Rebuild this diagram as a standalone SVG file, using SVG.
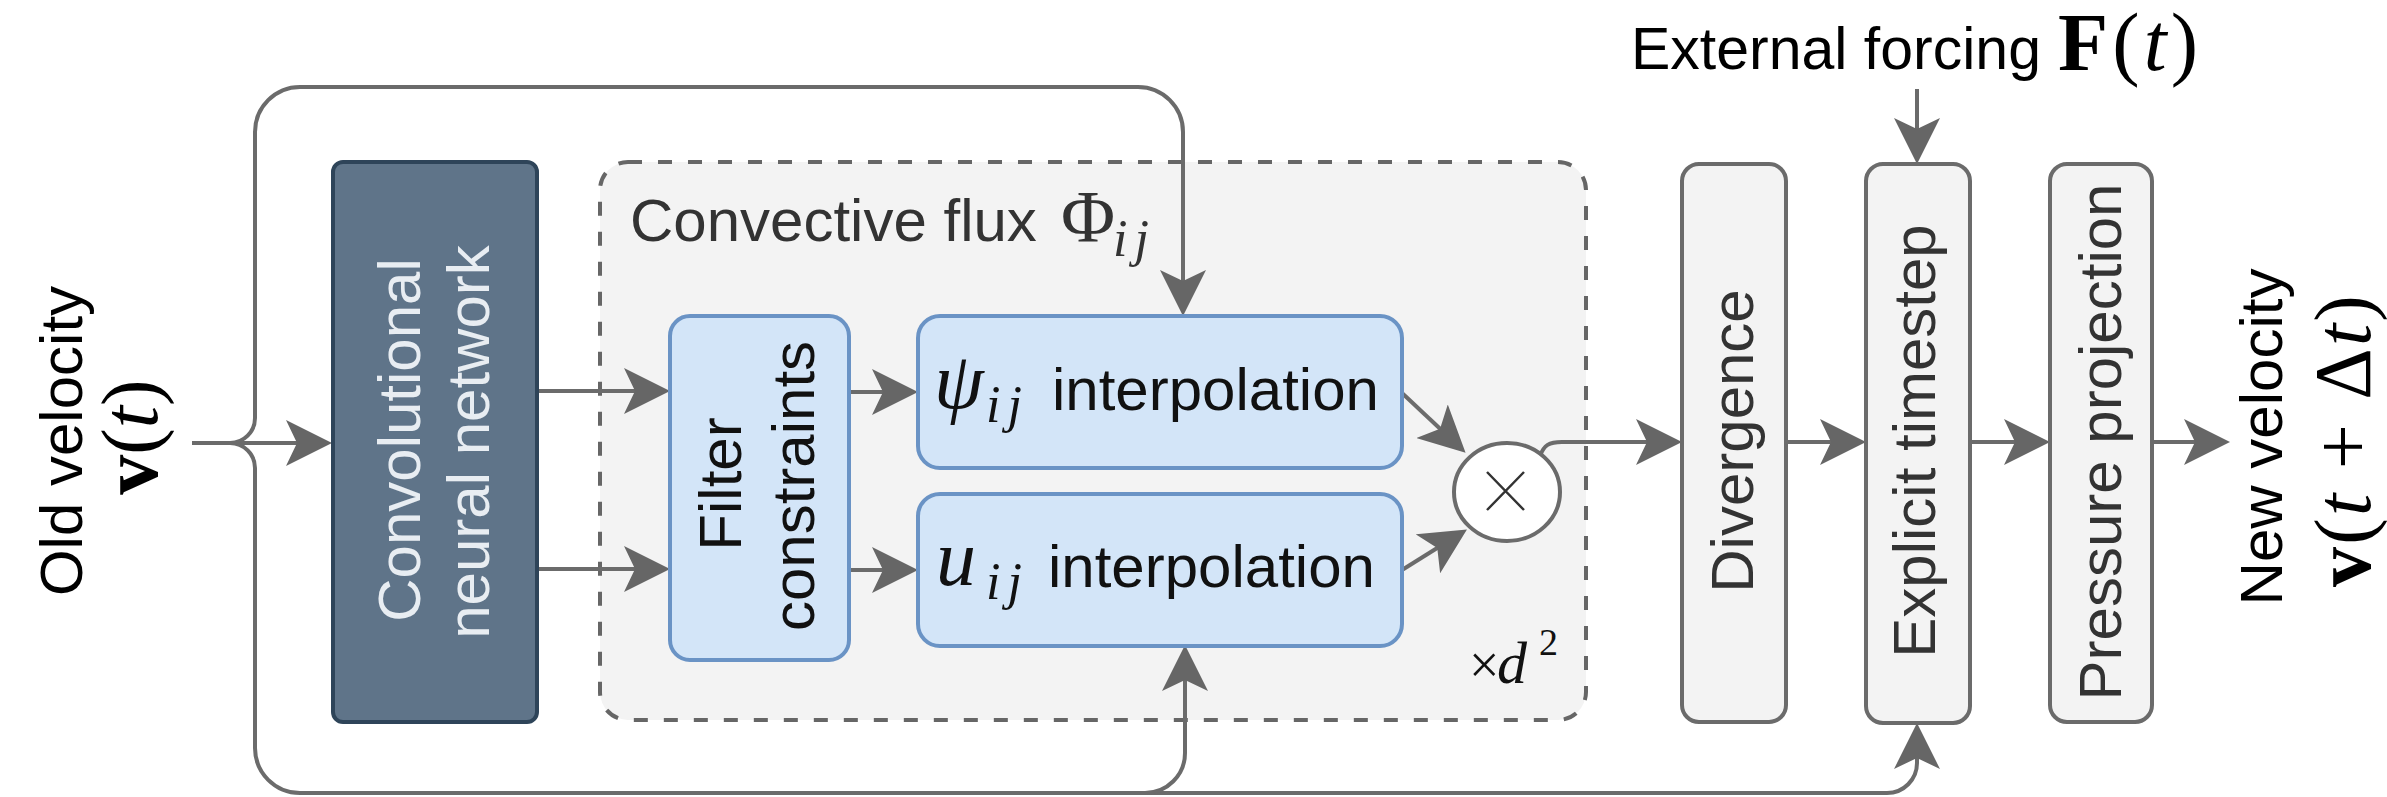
<svg xmlns="http://www.w3.org/2000/svg" width="2387" height="797" viewBox="0 0 2387 797">
<style>
.sans{font-family:"Liberation Sans",Arial,sans-serif;font-size:60px}
.serif{font-family:"Liberation Serif","Times New Roman",serif}
.it{font-style:italic}
.bd{font-weight:bold}
.conn{fill:none;stroke:#6b6b6b;stroke-width:4}
.gray{fill:#f3f3f3;stroke:#6b6b6b;stroke-width:4}
.blue{fill:#d3e5f8;stroke:#6a93c5;stroke-width:4}
.dark{fill:#5f7489;stroke:#2e4459;stroke-width:4}
</style>
<defs>
<marker id="ah" viewBox="0 0 46 46" refX="26" refY="23" markerWidth="46" markerHeight="46" markerUnits="userSpaceOnUse" orient="auto">
<path d="M0,0 L46,23 L0,46 L11,23 z" fill="#666"/>
</marker>
</defs>
<rect width="2387" height="797" fill="#fff"/>

<g id="convective-flux">
<rect x="600" y="162" width="986" height="558" rx="28" fill="#f3f3f3" stroke="#666" stroke-width="4" stroke-dasharray="14 16"/>
<text class="sans" x="630" y="241" fill="#333">Convective flux</text>
<text class="serif" x="1061" y="242" font-size="74" fill="#333">Φ</text>
<text class="serif it" x="1113" y="256" font-size="52" textLength="36" lengthAdjust="spacing" fill="#333">ij</text>
<text class="serif" x="1469" y="683" font-size="54" fill="#111">×</text>
<text class="serif it" x="1497" y="683" font-size="60" fill="#111">d</text>
<text class="serif" x="1539" y="655" font-size="38" fill="#111">2</text>
</g>

<g id="connectors">
<path class="conn" d="M192,443 H230"/>
<path class="conn" d="M230,443 A25,25 0 0 0 255,418 V132 A45,45 0 0 1 300,87 H1138 A45,45 0 0 1 1183,132 V296" marker-end="url(#ah)"/>
<path class="conn" d="M230,443 A25,25 0 0 1 255,468 V748 A45,45 0 0 0 300,793 H1887 A30,30 0 0 0 1917,763 V743" marker-end="url(#ah)"/>
<path class="conn" d="M1145,793 A40,40 0 0 0 1185,753 V665" marker-end="url(#ah)"/>
<path class="conn" d="M230,443 H312" marker-end="url(#ah)"/>
<path class="conn" d="M537,391 H650" marker-end="url(#ah)"/>
<path class="conn" d="M537,569 H650" marker-end="url(#ah)"/>
<path class="conn" d="M849,392 H898" marker-end="url(#ah)"/>
<path class="conn" d="M849,570 H898" marker-end="url(#ah)"/>
<path class="conn" d="M1402,393 L1451,439" marker-end="url(#ah)"/>
<path class="conn" d="M1402,570 L1450,540" marker-end="url(#ah)"/>
<path class="conn" d="M1540,456 C1544,445 1549,442 1562,442 H1662" marker-end="url(#ah)"/>
<path class="conn" d="M1786,442 H1846" marker-end="url(#ah)"/>
<path class="conn" d="M1970,442 H2030" marker-end="url(#ah)"/>
<path class="conn" d="M2152,442 H2210" marker-end="url(#ah)"/>
<path class="conn" d="M1917,89 V144" marker-end="url(#ah)"/>
</g>

<g id="old-velocity">
<text class="sans" transform="translate(82,441) rotate(-90)" text-anchor="middle" fill="#000">Old velocity</text>
<text class="serif" transform="translate(157,437) rotate(-90)" text-anchor="middle" font-size="80" fill="#000"><tspan class="bd">v</tspan>(<tspan class="it">t</tspan>)</text>
</g>

<g id="cnn">
<rect class="dark" x="333" y="162" width="204" height="560" rx="10"/>
<text class="sans" transform="translate(420,440) rotate(-90)" text-anchor="middle" fill="#e8edf2">Convolutional</text>
<text class="sans" transform="translate(489,442) rotate(-90)" text-anchor="middle" fill="#e8edf2">neural network</text>
</g>

<g id="filter">
<rect class="blue" x="670" y="316" width="179" height="344" rx="20"/>
<text class="sans" transform="translate(741,484) rotate(-90)" text-anchor="middle" fill="#111">Filter</text>
<text class="sans" transform="translate(814,486) rotate(-90)" text-anchor="middle" fill="#111">constraints</text>
</g>

<g id="psi">
<rect class="blue" x="918" y="316" width="484" height="152" rx="22"/>
<text class="serif it" x="934" y="408" font-size="80" fill="#111">ψ</text>
<text class="serif it" x="986" y="422" font-size="52" textLength="36" lengthAdjust="spacing" fill="#111">ij</text>
<text class="sans" x="1052" y="410" fill="#111">interpolation</text>
</g>

<g id="u">
<rect class="blue" x="918" y="494" width="484" height="152" rx="22"/>
<text class="serif it" x="936" y="585" font-size="80" fill="#111">u</text>
<text class="serif it" x="986" y="599" font-size="52" textLength="36" lengthAdjust="spacing" fill="#111">ij</text>
<text class="sans" x="1048" y="587" fill="#111">interpolation</text>
</g>

<g id="multiply">
<ellipse cx="1507" cy="492" rx="53" ry="49" fill="#fff" stroke="#6b6b6b" stroke-width="4"/>
<path d="M1487,472 L1524,510 M1524,472 L1487,510" stroke="#333" stroke-width="2.5"/>
</g>

<g id="divergence">
<rect class="gray" x="1682" y="164" width="104" height="558" rx="17"/>
<text class="sans" transform="translate(1753,441) rotate(-90)" text-anchor="middle" fill="#333">Divergence</text>
</g>

<g id="explicit">
<rect class="gray" x="1866" y="164" width="104" height="559" rx="17"/>
<text class="sans" transform="translate(1935,441) rotate(-90)" text-anchor="middle" fill="#333">Explicit timestep</text>
</g>

<g id="pressure">
<rect class="gray" x="2050" y="164" width="102" height="558" rx="17"/>
<text class="sans" transform="translate(2121,442) rotate(-90)" text-anchor="middle" fill="#333">Pressure projection</text>
</g>

<g id="forcing">
<text class="sans" x="1631" y="69" textLength="410" lengthAdjust="spacingAndGlyphs" fill="#000">External forcing</text>
<text class="serif" x="2058" y="70" font-size="82" textLength="140" lengthAdjust="spacing" fill="#000"><tspan class="bd">F</tspan>(<tspan class="it">t</tspan>)</text>
</g>

<g id="new-velocity">
<text class="sans" transform="translate(2282,437) rotate(-90)" text-anchor="middle" fill="#000">New velocity</text>
<text class="serif" transform="translate(2370,441) rotate(-90)" text-anchor="middle" font-size="80" textLength="292" lengthAdjust="spacing" fill="#000"><tspan class="bd">v</tspan>(<tspan class="it">t</tspan> + Δ<tspan class="it">t</tspan>)</text>
</g>
</svg>
